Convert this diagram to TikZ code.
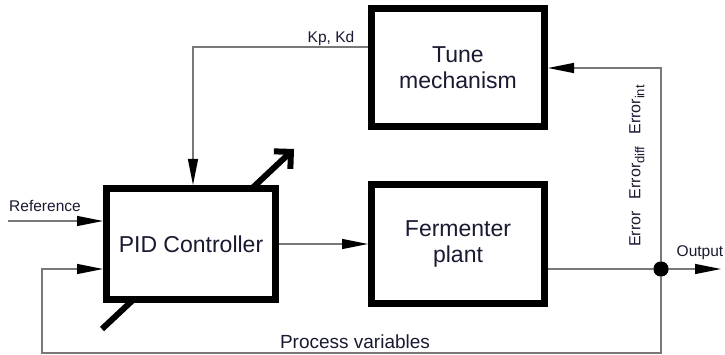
\documentclass[tikz,border=0pt]{standalone}
\usepackage{fontspec}
\setmainfont{Liberation Sans}
\usepackage{xcolor}
\usepackage{tikz}
\usetikzlibrary{arrows.meta,positioning,calc}

\definecolor{ink}{RGB}{25,25,50}
\definecolor{wire}{RGB}{120,120,120}

\begin{document}
\begin{tikzpicture}[
  x=1pt,y=-1pt,
  node distance=51pt and 89pt,
  box/.style={draw,line width=7pt,fill=white,text=ink,align=center,minimum width=173pt,minimum height=118pt,font=\fontsize{23}{26}\selectfont},
  arrow/.style={draw=wire,line width=1.3pt,-{Triangle[length=26pt,width=10pt,black]}},
  line/.style={draw=wire,line width=1.3pt},
  adjust/.style={line width=6pt,-{Straight Barb[angle=90:17pt,sharp]}},
  lbl/.style={text=ink,inner sep=1pt,font=\fontsize{15.5}{18}\selectfont}
]
\useasboundingbox (0,0) rectangle (725,355);
% adjustable-gain arrow, drawn below the controller box
\coordinate (adjlo) at (102,329);
\coordinate (adjhi) at (294,149);
\draw[adjust] (adjlo) -- (adjhi);
% blocks
\node[box,minimum width=169pt,minimum height=111pt] (pid) at (191,244) {PID Controller};
\node[box,right=of pid] (ferm) {Fermenter\\plant};
\node[box,above=of ferm] (tune) {Tune\\mechanism};
\node[circle,fill=black,minimum size=15pt,inner sep=0pt] (junc) at (661,269) {};
% free ends
\coordinate (ref) at (8,221);
\coordinate (out) at (721,269);
\coordinate (pvl) at (42,353);
\coordinate (kp) at (193,47);
% connectors
\draw[arrow] (ref) -- (ref -| pid.west);
\draw[arrow] (pid.east) -- (pid.east -| ferm.west);
\draw[line] (ferm.east |- junc) -- (junc);
\draw[arrow] (junc) -- (out);
\draw[arrow] (junc) |- (tune.east);
\draw[arrow] (junc) |- (pvl) |- (junc -| pid.west);
\draw[arrow] (tune.west |- kp) -- (kp) -- (kp |- pid.north);
\node[circle,fill=black,minimum size=15pt,inner sep=0pt] at (junc) {};
% labels
\node[lbl] (reflbl) at (45,206) {Reference};
\node[lbl] (kplbl) at (331,38) {Kp, Kd};
\node[lbl] (outlbl) at (700,253) {Output};
\node[lbl,font=\fontsize{19}{22}\selectfont] (pvlbl) at (355,342) {Process variables};
\node[lbl,rotate=90,font=\fontsize{16}{18}\selectfont] (errlbl) at (637,166)
  {Error\hspace{12pt}Error\raisebox{-4pt}{\fontsize{13}{14}\selectfont diff}\hspace{12pt}Error\raisebox{-4pt}{\fontsize{13}{14}\selectfont int}};
\end{tikzpicture}
\end{document}
